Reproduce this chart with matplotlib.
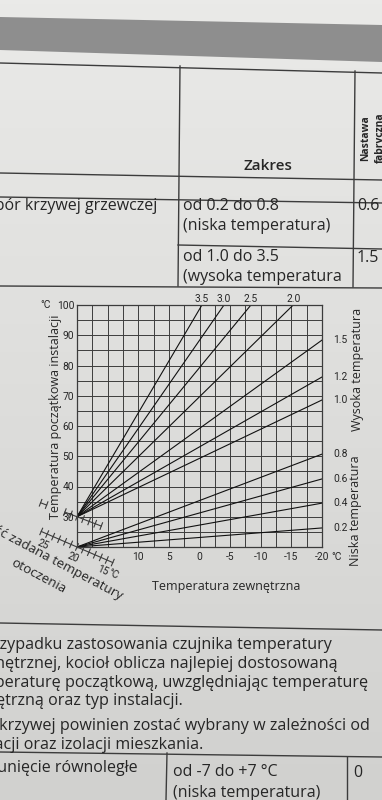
import numpy as np
import matplotlib.pyplot as plt
from matplotlib import font_manager
from matplotlib.colors import LinearSegmentedColormap

# krzywe grzewcze (punkt startu i punkt konca prostej)
niskie = ["0.2", "0.4", "0.6", "0.8"]
niskie_start = (20, 20)
niskie_koniec_x = [-20, -20, -20, -20]
niskie_koniec_y = [26.3, 34.5, 42.5, 50.7]

wysokie = ["1.0", "1.2", "1.5", "2.0", "2.5", "3.0", "3.5"]
wysokie_start = (20, 30)
wysokie_koniec_x = [-20, -20, -20, -15.3, -8.4, -4.0, -0.4]
wysokie_koniec_y = [68.6, 76.2, 88.4, 100, 100, 100, 100]

x_ticks = [10, 5, 0, -5, -10, -15, -20]
y_ticks = [30, 40, 50, 60, 70, 80, 90, 100]
skala_otoczenia = [25, 20, 15]

# tekst strony
akapit = [
    "W przypadku zastosowania czujnika temperatury",
    "zewnętrznej, kocioł oblicza najlepiej dostosowaną",
    "temperaturę początkową, uwzględniając temperaturę",
    "zewnętrzną oraz typ instalacji.",
    "Typ krzywej powinien zostać wybrany w zależności od",
    "instalacji oraz izolacji mieszkania.",
]
akapit_koniec = [332, 338, 368, 183, 370, 203]
akapit_y = [645, 664, 683, 701, 726, 745]

TXT = ["Open Sans", "DejaVu Sans"]
nazwy = {f.name for f in font_manager.fontManager.ttflist}
if "Liberation Sans Narrow" in nazwy:
    NUM, NS = ["Liberation Sans Narrow", "DejaVu Sans"], 8.2
else:
    NUM, NS = ["Roboto", "DejaVu Sans"], 7.4
plt.rcParams["font.family"] = TXT
INK = "#262626"
LINE = "#3c3c3c"

W, H = 382, 800
fig = plt.figure(figsize=(W / 100, H / 100), dpi=100)
fig.patch.set_facecolor("#dcdcda")

# tlo strony w pikselach
page = fig.add_axes([0, 0, 1, 1], zorder=0)
page.set_xlim(0, W)
page.set_ylim(H, 0)
page.axis("off")
papier = LinearSegmentedColormap.from_list("papier", ["#eaeae8", "#d1d1cf"])
page.imshow(np.linspace(0, 1, 200).reshape(-1, 1), extent=[0, W, H, 0],
            aspect="auto", cmap=papier, zorder=0)
page.fill([0, W, W, 0], [17, 25, 62, 50], color="#8e8e8e", lw=0, zorder=1)

tabela = [((0, 63), (W, 73)), ((0, 173), (W, 180)), ((0, 197), (W, 203)),
          ((178, 245), (W, 249)), ((0, 286), (W, 288)),
          ((180, 66), (178, 286)), ((355, 71), (353, 287)),
          ((0, 623), (W, 630)), ((0, 752), (W, 757)),
          ((167, 753), (166, H)), ((347, 757), (347, H))]
for (x0, y0), (x1, y1) in tabela:
    page.plot([x0, x1], [y0, y1], color=LINE, lw=1.0, zorder=2)

FS = 11.5
page.text(268, 166, "Zakres", fontsize=11, weight="semibold", color=INK,
          ha="center", va="center")
page.text(366, 138, "Nastawa", fontsize=7.5, weight="bold", color=INK,
          rotation=90, ha="center", va="center")
page.text(380, 138, "fabryczna", fontsize=7.5, weight="bold", color=INK,
          rotation=90, ha="center", va="center")
page.text(157, 206, "Wybór krzywej grzewczej", fontsize=FS, color=INK,
          ha="right", va="center")
for y, s in [(206, "od 0.2 do 0.8"), (226, "(niska temperatura)"),
             (257, "od 1.0 do 3.5"), (277, "(wysoka temperatura")]:
    page.text(183, y, s, fontsize=FS, color=INK, ha="left", va="center")
page.text(357, 206, "0.6", fontsize=FS, color=INK, va="center")
page.text(357, 258, "1.5", fontsize=FS, color=INK, va="center")

for s, xe, y in zip(akapit, akapit_koniec, akapit_y):
    page.text(xe, y, s, fontsize=11.6, color=INK, ha="right", va="center")
page.text(138, 768, "Przesunięcie równoległe", fontsize=FS, color=INK,
          ha="right", va="center")
page.text(173, 772, "od -7 do +7 °C", fontsize=FS, color=INK, va="center")
page.text(173, 793, "(niska temperatura)", fontsize=FS, color=INK, va="center")
page.text(353, 773, "0", fontsize=FS, color=INK, va="center")

# wykres krzywych grzewczych
left, right, top, bottom = 77, 322, 305, 547
ax = fig.add_axes([left / W, 1 - bottom / H, (right - left) / W, (bottom - top) / H],
                  zorder=2)
ax.set_facecolor("none")
ax.set_xlim(20, -20)
ax.set_ylim(20, 100)
ax.set_xticks(x_ticks)
ax.set_xticklabels([str(v) for v in x_ticks])
ax.set_yticks(y_ticks)
ax.set_xticks(np.arange(20, -20.1, -2.5), minor=True)
ax.set_yticks(np.arange(20, 100.1, 5), minor=True)
ax.grid(True, which="both", color=LINE, lw=0.7)
ax.tick_params(which="both", length=0, colors=INK, labelsize=NS)
ax.tick_params(axis="x", pad=3.5)
ax.tick_params(axis="y", pad=2)
for lbl in ax.get_xticklabels() + ax.get_yticklabels():
    lbl.set_family(NUM)
for sp in ax.spines.values():
    sp.set_color(LINE)
    sp.set_linewidth(0.9)

for name, xe, ye in zip(niskie, niskie_koniec_x, niskie_koniec_y):
    ax.plot([niskie_start[0], xe], [niskie_start[1], ye], color="#111111", lw=0.8)
    ax.annotate(name, (xe, ye), xytext=(8, 0), textcoords="offset points",
                fontsize=NS, family=NUM, color=INK, va="center",
                annotation_clip=False)
for name, xe, ye in zip(wysokie, wysokie_koniec_x, wysokie_koniec_y):
    ax.plot([wysokie_start[0], xe], [wysokie_start[1], ye], color="#111111", lw=0.8)
    if ye >= 100:
        ax.annotate(name, (xe, ye), xytext=(0, 0.5), textcoords="offset points",
                    fontsize=NS, family=NUM, color=INK, ha="center",
                    va="bottom", annotation_clip=False)
    else:
        ax.annotate(name, (xe, ye), xytext=(8, 0), textcoords="offset points",
                    fontsize=NS, family=NUM, color=INK, va="center",
                    annotation_clip=False)

ax.set_ylabel("Temperatura początkowa instalacji", fontsize=9, color=INK)
ax.yaxis.set_label_coords(-0.06, 0.54)
ax.set_xlabel("Temperatura zewnętrzna", fontsize=9, color=INK)
ax.xaxis.set_label_coords(0.61, -0.135)
ax.text(-0.13, 1.0, "°C", transform=ax.transAxes, fontsize=NS, family=NUM,
        color=INK, ha="center", va="center")
ax.text(1.06, -0.04, "°C", transform=ax.transAxes, fontsize=NS, family=NUM,
        color=INK, ha="center", va="center")
ax.text(1.145, 0.735, "Wysoka temperatura", transform=ax.transAxes, fontsize=9,
        color=INK, rotation=90, ha="center", va="center")
ax.text(1.135, 0.15, "Niska temperatura", transform=ax.transAxes, fontsize=9,
        color=INK, rotation=90, ha="center", va="center")

# ukosne skale wartosci zadanej temperatury otoczenia
to_page = page.transData.inverted()


def skala(start, kat, odcinki, podpisy=False, krok=6.5):
    a = np.radians(kat)
    d = np.array([np.cos(a), np.sin(a)])
    n = np.array([-np.sin(a), np.cos(a)])
    p = to_page.transform(ax.transData.transform(start))
    for k0, k1 in odcinki:
        ks = np.arange(k0, k1 + 1)
        pts = p + np.outer(ks * krok, d)
        page.plot(pts[[0, -1], 0], pts[[0, -1], 1], color=LINE, lw=0.8, zorder=3)
        for q in pts:
            page.plot([q[0] - 3.5 * n[0], q[0] + 3.5 * n[0]],
                      [q[1] - 3.5 * n[1], q[1] + 3.5 * n[1]],
                      color=LINE, lw=0.8, zorder=3)
    if podpisy:
        for v in skala_otoczenia:
            q = p + d * (20 - v) * krok + n * 11
            page.text(q[0], q[1], str(v), fontsize=NS, family=NUM,
                      color=INK, rotation=-kat, ha="center", va="center", zorder=3)
        q = p + d * 6.8 * krok + n * 11
        page.text(q[0], q[1], "°C", fontsize=NS, family=NUM, color=INK,
                  rotation=-kat, ha="center", va="center", zorder=3)


skala(wysokie_start, 21, [(-6, -5), (-2, 4)])
skala(niskie_start, 23.5, [(-6, 6)], podpisy=True)
page.text(122, 597, "Wartość zadana temperatury", fontsize=9.6, color=INK,
          rotation=-28, rotation_mode="anchor", ha="right", va="center", zorder=3)
page.text(38, 576, "otoczenia", fontsize=9.6, color=INK, rotation=-28,
          rotation_mode="anchor", ha="center", va="center", zorder=3)

fig.savefig("out.png", dpi=100)
